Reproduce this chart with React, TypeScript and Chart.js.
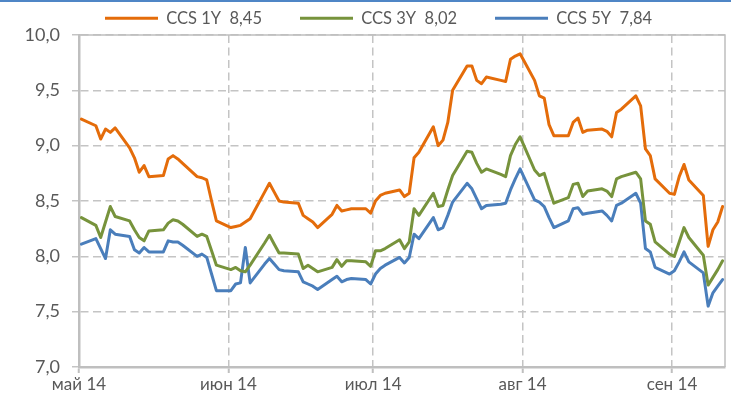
import React, { useEffect, useRef } from "react";
import { Chart, registerables } from "chart.js";

Chart.register(...registerables);

// Trading dates (business days)
const DATES: string[] = [
  "2014-05-02",
  "2014-05-05", "2014-05-06", "2014-05-07", "2014-05-08", "2014-05-09",
  "2014-05-12", "2014-05-13", "2014-05-14", "2014-05-15", "2014-05-16",
  "2014-05-19", "2014-05-20", "2014-05-21", "2014-05-22", "2014-05-23",
  "2014-05-26", "2014-05-27", "2014-05-28", "2014-05-29", "2014-05-30",
  "2014-06-02", "2014-06-03", "2014-06-04", "2014-06-05", "2014-06-06",
  "2014-06-09", "2014-06-10", "2014-06-11", "2014-06-12", "2014-06-13",
  "2014-06-16", "2014-06-17", "2014-06-18", "2014-06-19", "2014-06-20",
  "2014-06-23", "2014-06-24", "2014-06-25", "2014-06-26", "2014-06-27",
  "2014-06-30", "2014-07-01", "2014-07-02", "2014-07-03", "2014-07-04",
  "2014-07-07", "2014-07-08", "2014-07-09", "2014-07-10", "2014-07-11",
  "2014-07-14", "2014-07-15", "2014-07-16", "2014-07-17", "2014-07-18",
  "2014-07-21", "2014-07-22", "2014-07-23", "2014-07-24", "2014-07-25",
  "2014-07-28", "2014-07-29", "2014-07-30", "2014-07-31", "2014-08-01",
  "2014-08-04", "2014-08-05", "2014-08-06", "2014-08-07", "2014-08-08",
  "2014-08-11", "2014-08-12", "2014-08-13", "2014-08-14", "2014-08-15",
  "2014-08-18", "2014-08-19", "2014-08-20", "2014-08-21", "2014-08-22",
  "2014-08-25", "2014-08-26", "2014-08-27", "2014-08-28", "2014-08-29",
  "2014-09-01", "2014-09-02", "2014-09-03", "2014-09-04", "2014-09-05",
  "2014-09-08", "2014-09-09", "2014-09-10", "2014-09-11", "2014-09-12",
];

const CCS_1Y: number[] = [
  9.24,
  9.18, 9.06, 9.15, 9.12, 9.16,
  8.98, 8.89, 8.76, 8.82, 8.72,
  8.73, 8.88, 8.91, 8.88, 8.84,
  8.72, 8.71, 8.69, 8.5, 8.32,
  8.26, 8.27, 8.28, 8.31, 8.34,
  8.58, 8.66, 8.58, 8.5, 8.49,
  8.48, 8.37, 8.34, 8.31, 8.26,
  8.38, 8.46, 8.41, 8.42, 8.43,
  8.43, 8.39, 8.5, 8.55, 8.57,
  8.6, 8.54, 8.57, 8.89, 8.94,
  9.17, 9.0, 9.05, 9.21, 9.5,
  9.72, 9.72, 9.59, 9.56, 9.62,
  9.59, 9.58, 9.78, 9.81, 9.83,
  9.59, 9.45, 9.43, 9.19, 9.09,
  9.09, 9.21, 9.25, 9.12, 9.14,
  9.15, 9.13, 9.08, 9.3, 9.33,
  9.45, 9.36, 8.97, 8.91, 8.7,
  8.57, 8.56, 8.72, 8.83, 8.69,
  8.55, 8.09, 8.24, 8.31, 8.45,
];

const CCS_3Y: number[] = [
  8.35,
  8.28, 8.17, 8.31, 8.45, 8.36,
  8.32, 8.24, 8.17, 8.14, 8.23,
  8.24, 8.3, 8.33, 8.32, 8.29,
  8.18, 8.2, 8.18, 8.05, 7.92,
  7.88, 7.9, 7.87, 7.86, 7.92,
  8.12, 8.19, 8.11, 8.03, 8.03,
  8.02, 7.89, 7.92, 7.89, 7.86,
  7.9, 7.97, 7.91, 7.96, 7.96,
  7.95, 7.91, 8.05, 8.05, 8.07,
  8.15, 8.07, 8.13, 8.43, 8.37,
  8.57, 8.45, 8.46, 8.6, 8.73,
  8.95, 8.94, 8.84, 8.76, 8.79,
  8.74, 8.72, 8.91, 9.01, 9.08,
  8.78, 8.73, 8.75, 8.61, 8.48,
  8.53, 8.65, 8.66, 8.54, 8.59,
  8.61, 8.59, 8.54, 8.7, 8.72,
  8.76, 8.7, 8.32, 8.29, 8.13,
  8.02, 8.0, 8.13, 8.26, 8.17,
  8.01, 7.74, 7.81, 7.88, 7.96,
];

const CCS_5Y: number[] = [
  8.11,
  8.16, 8.07, 7.98, 8.24, 8.2,
  8.18, 8.06, 8.03, 8.08, 8.04,
  8.04, 8.14, 8.13, 8.13, 8.1,
  8.0, 8.02, 7.99, 7.84, 7.69,
  7.69, 7.75, 7.76, 8.08, 7.76,
  7.93, 7.98, 7.93, 7.88, 7.87,
  7.86, 7.77, 7.75, 7.73, 7.7,
  7.79, 7.82, 7.77, 7.79, 7.8,
  7.79, 7.75, 7.84, 7.89, 7.92,
  7.99, 7.94, 7.99, 8.2, 8.16,
  8.35, 8.24, 8.26, 8.37, 8.49,
  8.66, 8.61, 8.52, 8.43, 8.46,
  8.47, 8.48, 8.6, 8.7, 8.79,
  8.51, 8.49, 8.45, 8.35, 8.26,
  8.32, 8.43, 8.44, 8.38, 8.39,
  8.41, 8.37, 8.32, 8.46, 8.48,
  8.57, 8.48, 8.07, 8.04, 7.9,
  7.84, 7.87, 7.95, 8.04, 7.95,
  7.85, 7.55, 7.67, 7.73, 7.79,
];

const SERIES_LABELS: string[] = ["CCS 1Y  8,45", "CCS 3Y  8,02", "CCS 5Y  7,84"];
const SERIES_COLORS: string[] = ["#E46C0A", "#77933C", "#4A7EBB"];

const MONTH_TICK_DATES: string[] = ["2014-05-01", "2014-06-01", "2014-07-01", "2014-08-01", "2014-09-01"];
const MONTH_TICK_LABELS: string[] = ["май 14", "июн 14", "июл 14", "авг 14", "сен 14"];

const Y_MIN = 7;
const Y_MAX = 10;
const Y_STEP = 0.5;

const ORIGIN = Date.parse("2014-05-01");
const dayOffset = (iso: string) => Math.round((Date.parse(iso) - ORIGIN) / 86400000);

// each trading day is drawn in the middle of its day slot
const SLOT_SHIFT = 0.5;
const AXIS_START = dayOffset("2014-05-01") + SLOT_SHIFT;
const AXIS_END = dayOffset("2014-09-12") + SLOT_SHIFT;

const FONT = "Lato, 'Open Sans', 'DejaVu Sans', sans-serif";
const TEXT_COLOR = "#595959";
const GRID_COLOR = "#C4C4C4";
const AXIS_COLOR = "#BFBFBF";

const W = 731;
const H = 406;
const LEGEND_H = 35;
const LEGEND_ITEM_TOP = 10;
const LEGEND_FIRST_X = 105;
const LEGEND_PAD = 38;

export default function App() {
  const ref = useRef<HTMLCanvasElement | null>(null);

  useEffect(() => {
    document.body.style.margin = "0";
    const canvas = ref.current;
    if (!canvas) return;

    const tickValues = MONTH_TICK_DATES.map((d) => dayOffset(d) + SLOT_SHIFT);

    const legendPlugin = {
      id: "legendPlacement",
      beforeInit(chart: any) {
        const legend = chart.legend;
        if (legend) {
          const origFit = legend.fit;
          legend.fit = function () {
            origFit.call(this);
            this.height = LEGEND_H;
          };
        }
      },
      afterLayout(chart: any) {
        const legend = chart.legend;
        if (legend) {
          const pad = legend.options.labels.padding;
          legend.top = LEGEND_ITEM_TOP - pad;
          legend.bottom = LEGEND_H;
          const lw = legend.lineWidths ? legend.lineWidths[0] : 0;
          const start = (legend.left + pad + legend.right - lw) / 2;
          const shift = LEGEND_FIRST_X - start;
          legend.left += shift;
          legend.right += shift;
        }
      },
    };

    const framePlugin = {
      id: "plotFrame",
      beforeDatasetsDraw(chart: any) {
        const { ctx, chartArea } = chart;
        ctx.save();
        ctx.strokeStyle = AXIS_COLOR;
        ctx.lineWidth = 1.5;
        ctx.beginPath();
        ctx.moveTo(chartArea.left, chartArea.top);
        ctx.lineTo(chartArea.right, chartArea.top);
        ctx.lineTo(chartArea.right, chartArea.bottom);
        ctx.stroke();
        ctx.restore();
      },
    };

    const series = [CCS_1Y, CCS_3Y, CCS_5Y];

    const chart = new Chart(canvas, {
      type: "line",
      data: {
        datasets: series.map((vals, si) => ({
          label: SERIES_LABELS[si],
          data: DATES.map((d, i) => ({ x: dayOffset(d), y: vals[i] })),
          borderColor: SERIES_COLORS[si],
          backgroundColor: SERIES_COLORS[si],
          borderWidth: 3,
          pointRadius: 0,
          pointHoverRadius: 0,
          tension: 0,
          fill: false,
          borderJoinStyle: "round" as const,
          borderCapStyle: "round" as const,
        })),
      },
      options: {
        responsive: false,
        animation: false,
        events: [],
        layout: { padding: { left: 0, right: 6, top: 0, bottom: 0 } },
        plugins: {
          tooltip: { enabled: false },
          legend: {
            display: true,
            position: "top",
            fullSize: true,
            labels: {
              boxWidth: 53,
              boxHeight: 3,
              padding: LEGEND_PAD,
              color: TEXT_COLOR,
              font: { family: FONT, size: 16.5 },
              generateLabels: (c: any) =>
                c.data.datasets.map((ds: any, i: number) => ({
                  text: ds.label,
                  fillStyle: ds.borderColor,
                  strokeStyle: ds.borderColor,
                  lineWidth: 0,
                  hidden: false,
                  datasetIndex: i,
                  fontColor: TEXT_COLOR,
                })),
            },
          },
        },
        scales: {
          x: {
            type: "linear",
            min: AXIS_START,
            max: AXIS_END,
            afterBuildTicks: (axis: any) => {
              axis.ticks = tickValues.map((v) => ({ value: v }));
            },
            afterFit: (axis: any) => {
              axis.height = H - 367;
            },
            ticks: {
              autoSkip: false,
              maxRotation: 0,
              padding: 1,
              color: TEXT_COLOR,
              font: { family: FONT, size: 17 },
              callback: (value: any) => {
                const idx = tickValues.findIndex((v) => Math.abs(v - Number(value)) < 1e-6);
                return idx >= 0 ? MONTH_TICK_LABELS[idx] : "";
              },
            },
            grid: {
              color: GRID_COLOR,
              lineWidth: 1.5,
              drawTicks: true,
              tickLength: 6,
              tickColor: AXIS_COLOR,
              tickWidth: 2,
            },
            border: { display: true, color: AXIS_COLOR, width: 2.5, dash: [8, 4.5] },
          },
          y: {
            type: "linear",
            min: Y_MIN,
            max: Y_MAX,
            afterFit: (axis: any) => {
              axis.width = 79;
            },
            ticks: {
              stepSize: Y_STEP,
              padding: 12,
              color: TEXT_COLOR,
              font: { family: FONT, size: 18 },
              callback: (value: any) => Number(value).toFixed(1).replace(".", ","),
            },
            grid: {
              color: GRID_COLOR,
              lineWidth: 1.5,
              drawTicks: true,
              tickLength: 7,
              tickColor: GRID_COLOR,
              tickWidth: 1.5,
            },
            border: { display: true, color: AXIS_COLOR, width: 2.5, dash: [8, 4.5] },
          },
        },
      },
      plugins: [legendPlugin, framePlugin],
    } as any);

    return () => chart.destroy();
  }, []);

  return (
    <div style={{ position: "fixed", left: 0, top: 0, width: W, height: H, background: "#fff" }}>
      <canvas ref={ref} width={W} height={H} style={{ width: W, height: H, display: "block" }} />
      <div style={{ position: "absolute", left: 0, top: 0, width: W, height: 2, background: "#4F86C6" }} />
    </div>
  );
}
